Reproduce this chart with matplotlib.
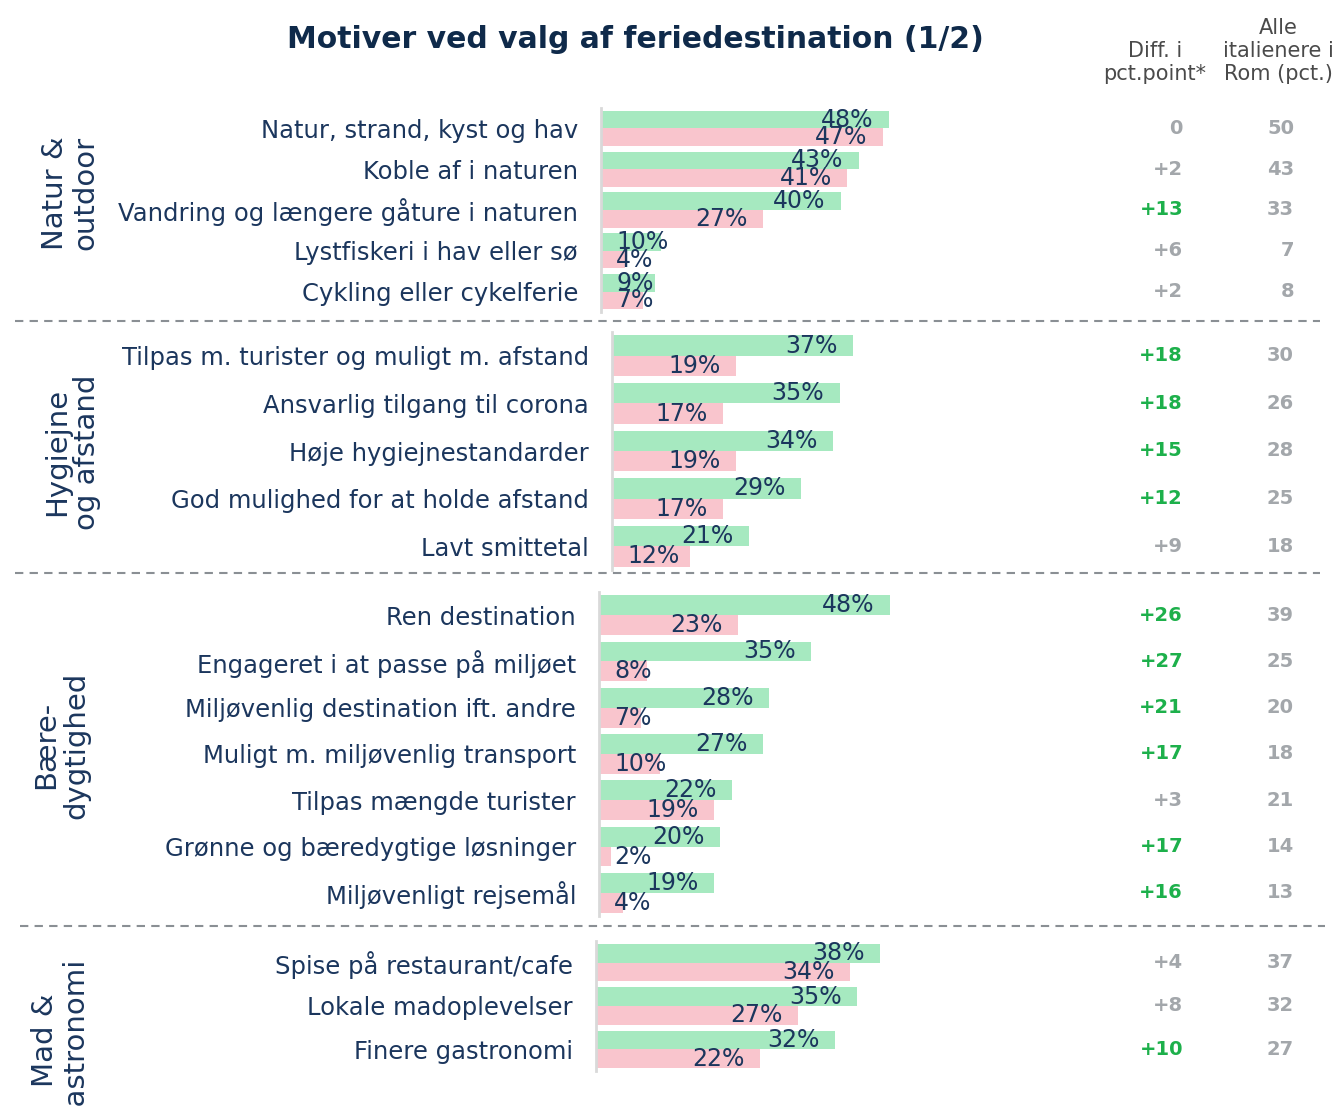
import matplotlib.pyplot as plt
from matplotlib import transforms
from matplotlib.lines import Line2D

W, H = 1334, 1109

# data
groups = ["Natur &\noutdoor", "Hygiejne\nog afstand", "Bære-\ndygtighed", "Mad &\ngastronomi"]

labels_natur = ["Natur, strand, kyst og hav", "Koble af i naturen",
                "Vandring og længere gåture i naturen", "Lystfiskeri i hav eller sø",
                "Cykling eller cykelferie"]
green_natur = [48, 43, 40, 10, 9]
pink_natur = [47, 41, 27, 4, 7]
diff_natur = [0, 2, 13, 6, 2]
alle_natur = [50, 43, 33, 7, 8]

labels_hyg = ["Tilpas m. turister og muligt m. afstand", "Ansvarlig tilgang til corona",
              "Høje hygiejnestandarder", "God mulighed for at holde afstand", "Lavt smittetal"]
green_hyg = [37, 35, 34, 29, 21]
pink_hyg = [19, 17, 19, 17, 12]
diff_hyg = [18, 18, 15, 12, 9]
alle_hyg = [30, 26, 28, 25, 18]

labels_baer = ["Ren destination", "Engageret i at passe på miljøet",
               "Miljøvenlig destination ift. andre", "Muligt m. miljøvenlig transport",
               "Tilpas mængde turister", "Grønne og bæredygtige løsninger", "Miljøvenligt rejsemål"]
green_baer = [48, 35, 28, 27, 22, 20, 19]
pink_baer = [23, 8, 7, 10, 19, 2, 4]
diff_baer = [26, 27, 21, 17, 3, 17, 16]
alle_baer = [39, 25, 20, 18, 21, 14, 13]

labels_mad = ["Spise på restaurant/cafe", "Lokale madoplevelser", "Finere gastronomi"]
green_mad = [38, 35, 32]
pink_mad = [34, 27, 22]
diff_mad = [4, 8, 10]
alle_mad = [37, 32, 27]

panels = [
    (labels_natur, green_natur, pink_natur, diff_natur, alle_natur),
    (labels_hyg, green_hyg, pink_hyg, diff_hyg, alle_hyg),
    (labels_baer, green_baer, pink_baer, diff_baer, alle_baer),
    (labels_mad, green_mad, pink_mad, diff_mad, alle_mad),
]

# layout in pixels: axis x, top, bottom, px per percent
layout = [(601, 108, 312, 6.0), (612, 332, 570, 6.5), (599, 592, 916, 6.06), (596, 941, 1071, 7.47)]
group_pos = [(70, 193), (72, 452), (61, 745), (60, 1040)]
sep_lines = [(15, 1320, 321), (15, 1320, 573), (20, 1325, 926)]

GREEN = "#a6e9c0"
PINK = "#f9c5cd"
NAVY = "#1b365d"
TITLE = "#0f2a4a"
GREY = "#a3a7ab"
SIG = "#1db04b"

plt.rcParams['font.family'] = ['DejaVu Sans']

fig = plt.figure(figsize=(W / 100, H / 100), dpi=100)
renderer = fig.canvas.get_renderer()

def box(x0, y0, x1, y1):
    return [x0 / W, 1 - y1 / H, (x1 - x0) / W, (y1 - y0) / H]

XMAX = 50
bh = 0.43
for (labels, green, pink, diff, alle), (ax0, top, bot, scale), gname, gp in zip(panels, layout, groups, group_pos):
    ax = fig.add_axes(box(ax0, top, ax0 + XMAX * scale, bot))
    n = len(labels)
    ys = list(range(n))
    ax.barh([y - bh / 2 for y in ys], green, height=bh, color=GREEN)
    ax.barh([y + bh / 2 for y in ys], pink, height=bh, color=PINK)
    ax.set_xlim(0, XMAX)
    ax.set_ylim(n - 0.5, -0.5)
    ax.set_yticks(ys)
    ax.set_yticklabels(labels, fontsize=17.5, color=NAVY)
    ax.tick_params(axis='y', length=0, pad=16.5)
    ax.set_xticks([])
    for s in ['top', 'right', 'bottom']:
        ax.spines[s].set_visible(False)
    ax.spines['left'].set_color('#d9d9d9')
    ax.spines['left'].set_linewidth(2)

    # value labels
    for vals, off in [(green, -bh / 2), (pink, bh / 2)]:
        for y, v in zip(ys, vals):
            t = ax.annotate(f"{v}%", xy=(v, y + off), xytext=(-11, 0), textcoords='offset points',
                            ha='right', va='center', fontsize=17, color=NAVY)
            ext = t.get_window_extent(renderer)
            axis_px = ax.transData.transform((0, 0))[0]
            if ext.x0 < axis_px + 15:
                t.remove()
                ax.annotate(f"{v}%", xy=(0, y + off), xytext=(11, 0), textcoords='offset points',
                            ha='left', va='center', fontsize=17, color=NAVY)

    # table columns
    tr = transforms.blended_transform_factory(fig.transFigure, ax.transData)
    for y, d, a in zip(ys, diff, alle):
        ds = "0" if d == 0 else f"+{d}"
        ax.text(1183 / W, y, ds, transform=tr, ha='right', va='center', fontsize=14,
                fontweight='bold', color=SIG if d >= 10 else GREY)
        ax.text(1294 / W, y, str(a), transform=tr, ha='right', va='center', fontsize=14,
                fontweight='bold', color=GREY)

    fig.text(gp[0] / W, 1 - gp[1] / H, gname, rotation=90, ha='center', va='center',
             multialignment='center', fontsize=21, color=NAVY, linespacing=1.1)

for x0, x1, y in sep_lines:
    fig.add_artist(Line2D([x0 / W, x1 / W], [1 - y / H, 1 - y / H], transform=fig.transFigure,
                          color='#8a8f94', lw=1.5, linestyle=(0, (4, 3))))

fig.text(635 / W, 1 - 40 / H, "Motiver ved valg af feriedestination (1/2)", ha='center', va='center',
         fontsize=21.5, fontweight='bold', color=TITLE)
fig.text(1155 / W, 1 - 84 / H, "Diff. i\npct.point*", ha='center', va='bottom',
         multialignment='center', fontsize=15, color='#4a4a4a', linespacing=1.2)
fig.text(1278 / W, 1 - 84 / H, "Alle\nitalienere i\nRom (pct.)", ha='center', va='bottom',
         multialignment='center', fontsize=15, color='#4a4a4a', linespacing=1.2)

fig.savefig("out.png", dpi=100)
